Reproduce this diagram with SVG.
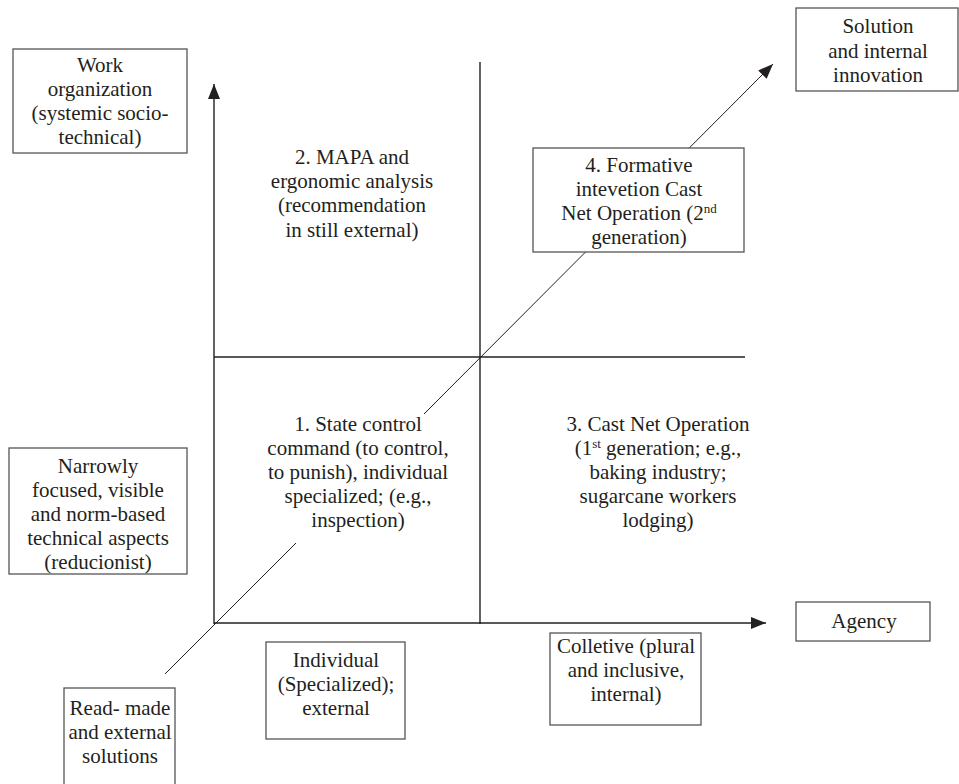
<svg xmlns="http://www.w3.org/2000/svg" width="959" height="784" viewBox="0 0 959 784">
<defs>
<marker id="arr" markerUnits="userSpaceOnUse" markerWidth="16" markerHeight="12" refX="15" refY="6" orient="auto">
<path d="M0,0 L15,6 L0,12 Z" fill="#231f20"/>
</marker>
<style>
text{font-family:'Liberation Serif','DejaVu Serif',serif;font-size:21px;fill:#231f20;text-anchor:middle}
.box{fill:#fff;stroke:#555;stroke-width:1.3}
.axis{stroke:#231f20;stroke-width:1.4;fill:none}
.diag{stroke:#231f20;stroke-width:1;fill:none}
.sup{font-size:13px}
</style>
</defs>
<rect width="959" height="784" fill="#fff"/>
<g id="connectors">
<line class="axis" x1="214" y1="624" x2="214" y2="84" marker-end="url(#arr)"/>
<line class="axis" x1="214" y1="623" x2="766" y2="623" marker-end="url(#arr)"/>
<line class="axis" x1="480" y1="62" x2="480" y2="624"/>
<line class="axis" x1="214" y1="357" x2="745" y2="357"/>
<path class="diag" d="M165,674 L296,543 M424,414 L773,64" marker-end="url(#arr)"/>
</g>
<g id="work-organization">
<rect class="box" x="13" y="49" width="174" height="104"/>
<text x="100" y="72">Work</text>
<text x="100" y="96">organization</text>
<text x="100" y="120">(systemic socio-</text>
<text x="100" y="144">technical)</text>
</g>
<g id="narrowly-focused">
<rect class="box" x="9" y="448" width="178" height="126"/>
<text x="98" y="473">Narrowly</text>
<text x="98" y="497">focused, visible</text>
<text x="98" y="521">and norm-based</text>
<text x="98" y="545">technical aspects</text>
<text x="98" y="569">(reducionist)</text>
</g>
<g id="read-made">
<rect class="box" x="64" y="688" width="111" height="110"/>
<text x="120" y="715">Read- made</text>
<text x="120" y="739">and external</text>
<text x="120" y="763">solutions</text>
</g>
<g id="individual">
<rect class="box" x="266" y="642" width="139" height="97"/>
<text x="336" y="667">Individual</text>
<text x="336" y="691">(Specialized);</text>
<text x="336" y="715">external</text>
</g>
<g id="colletive">
<rect class="box" x="550" y="633" width="151" height="92"/>
<text x="626" y="653">Colletive (plural</text>
<text x="626" y="677">and inclusive,</text>
<text x="626" y="701">internal)</text>
</g>
<g id="agency">
<rect class="box" x="796" y="602" width="134" height="39"/>
<text x="864" y="628">Agency</text>
</g>
<g id="solution">
<rect class="box" x="796" y="8" width="162" height="83"/>
<text x="878" y="33">Solution</text>
<text x="878" y="58">and internal</text>
<text x="878" y="82">innovation</text>
</g>
<g id="quadrant-2">
<text x="352" y="164">2. MAPA and</text>
<text x="352" y="188">ergonomic analysis</text>
<text x="352" y="212">(recommendation</text>
<text x="352" y="237">in still external)</text>
</g>
<g id="quadrant-4">
<rect class="box" x="533" y="148" width="211" height="104"/>
<text x="639" y="172">4. Formative</text>
<text x="639" y="196">intevetion Cast</text>
<text x="639" y="220">Net Operation (2<tspan class="sup" dy="-7">nd</tspan></text>
<text x="639" y="244">generation)</text>
</g>
<g id="quadrant-1">
<text x="358" y="431">1. State control</text>
<text x="358" y="455">command (to control,</text>
<text x="358" y="479">to punish), individual</text>
<text x="358" y="503">specialized; (e.g.,</text>
<text x="358" y="527">inspection)</text>
</g>
<g id="quadrant-3">
<text x="658" y="431">3. Cast Net Operation</text>
<text x="658" y="455">(1<tspan class="sup" dy="-7">st</tspan><tspan dy="7"> generation; e.g.,</tspan></text>
<text x="658" y="479">baking industry;</text>
<text x="658" y="503">sugarcane workers</text>
<text x="658" y="527">lodging)</text>
</g>
</svg>
